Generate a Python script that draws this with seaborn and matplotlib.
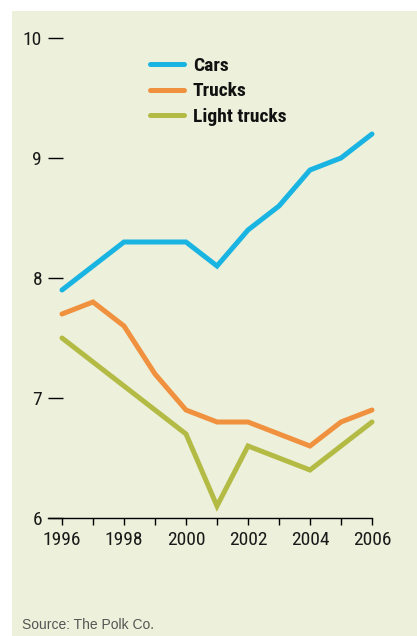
import matplotlib
matplotlib.use("Agg")
import matplotlib.pyplot as plt
import seaborn as sns
import pandas as pd
from matplotlib.patches import Rectangle

years = list(range(1996, 2007))
cars = [7.9, 8.1, 8.3, 8.3, 8.3, 8.1, 8.4, 8.6, 8.9, 9.0, 9.2]
trucks = [7.7, 7.8, 7.6, 7.2, 6.9, 6.8, 6.8, 6.7, 6.6, 6.8, 6.9]
light_trucks = [7.5, 7.3, 7.1, 6.9, 6.7, 6.1, 6.6, 6.5, 6.4, 6.6, 6.8]
series_names = ["Cars", "Trucks", "Light trucks"]
x_tick_labels = ["1996", "1998", "2000", "2002", "2004", "2006"]
y_ticks = [6, 7, 8, 9, 10]
source = "Source: The Polk Co."

colors = ["#1ab4e3", "#f0913f", "#b3bb45"]
bg = "#edf0da"

df = pd.DataFrame({
    "year": years * 3,
    "value": cars + trucks + light_trucks,
    "series": [series_names[0]] * 11 + [series_names[1]] * 11 + [series_names[2]] * 11,
})

sns.set_theme(style="white")
narrow = ["Roboto Condensed", "Liberation Sans Narrow", "DejaVu Sans"]
plt.rcParams["font.family"] = narrow
plt.rcParams["font.stretch"] = "condensed"

W, H = 417, 636
fig = plt.figure(figsize=(W / 100, H / 100), dpi=100, facecolor="white")
fig.patches.append(Rectangle((12 / W, 0), 1 - 12 / W, 1 - 11 / H,
                             transform=fig.transFigure, facecolor=bg,
                             edgecolor="none", zorder=-10))

ax = fig.add_axes([48 / W, (H - 518) / H, (372 - 48) / W, 480 / H])
ax.set_facecolor("none")

sns.lineplot(data=df, x="year", y="value", hue="series", hue_order=series_names,
             palette=colors, linewidth=3.6, legend=False, ax=ax)
for ln in ax.lines:
    ln.set_clip_on(False)
    ln.set_solid_capstyle("round")
    ln.set_solid_joinstyle("miter")

ax.set_xlim(1996 - 14 / 31, 2006)
ax.set_ylim(6, 10)
for s in ["top", "right", "left"]:
    ax.spines[s].set_visible(False)
ax.spines["bottom"].set_color("black")
ax.spines["bottom"].set_linewidth(1.0)

ax.set_xticks(years)
ax.set_xticklabels([str(y) if str(y) in x_tick_labels else "" for y in years])
ax.set_yticks(y_ticks)
ax.set_yticklabels([str(v) for v in y_ticks])
ax.tick_params(axis="x", direction="out", length=5, width=1.0, color="black",
               pad=4.5, labelsize=14, labelcolor="#1a1a1a", bottom=True)
ax.tick_params(axis="y", direction="in", length=10.8, width=1.0, color="black",
               pad=4.3, labelsize=14, labelcolor="#1a1a1a", left=True)
ax.set_xlabel("")
ax.set_ylabel("")

leg = ax.legend(handles=ax.lines, labels=series_names, loc="upper left",
                bbox_to_anchor=(150 / W, 1 - 57 / H), bbox_transform=fig.transFigure,
                frameon=False, borderpad=0, borderaxespad=0, handlelength=1.75,
                handletextpad=0.45, labelspacing=0.38,
                prop={"family": narrow, "weight": "bold", "size": 14,
                      "stretch": "condensed"})
for t in leg.get_texts():
    t.set_color("#111111")

fig.text(22 / W, 7 / H, source, ha="left", va="baseline", fontsize=10,
         color="#555555", family=["Liberation Sans", "DejaVu Sans"],
         fontstretch="normal")

fig.savefig("out.png", dpi=100, facecolor="white")
